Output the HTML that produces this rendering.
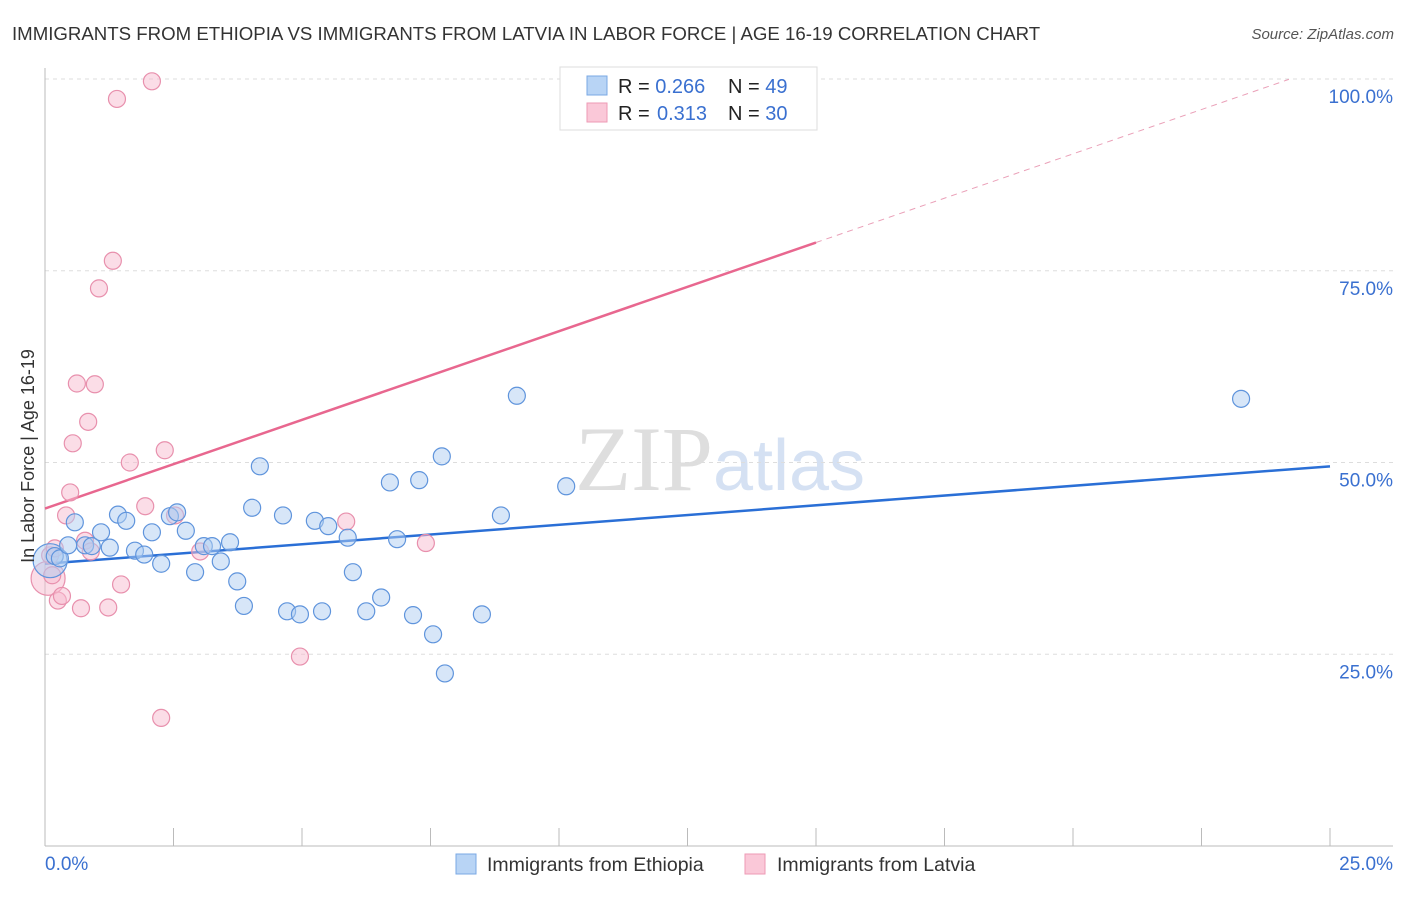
<!DOCTYPE html>
<html><head><meta charset="utf-8"><style>
body{margin:0;background:#fff;font-family:"Liberation Sans",sans-serif}
</style></head><body>
<svg width="1406" height="892" xmlns="http://www.w3.org/2000/svg" font-family="Liberation Sans, sans-serif">
<text x="12" y="40" font-size="18.65" fill="#333">IMMIGRANTS FROM ETHIOPIA VS IMMIGRANTS FROM LATVIA IN LABOR FORCE | AGE 16-19 CORRELATION CHART</text>
<text x="1394" y="39" font-size="15" fill="#555" text-anchor="end" font-style="italic">Source: ZipAtlas.com</text>
<text x="720" y="490" font-size="92" fill="#e4e4e4" text-anchor="middle"><tspan font-family="Liberation Serif, serif" fill="#dedede">ZIP</tspan><tspan fill="#d5e1f3" font-size="72">atlas</tspan></text>
<g id="grid"></g>
<g id="axes"></g>
<g id="lines"></g>
<g id="pts"></g>
<text transform="translate(34,456) rotate(-90)" font-size="18" fill="#333" text-anchor="middle">In Labor Force | Age 16-19</text>
<g>
<rect x="560" y="67" width="257" height="63" fill="#fff" stroke="#ddd"/>
<rect x="587" y="76" width="20" height="19" fill="#b8d4f5" stroke="#7aa8e4"/>
<rect x="587" y="103" width="20" height="19" fill="#fac8d8" stroke="#ee9ab5"/>
<text x="618" y="93" font-size="20" fill="#222">R = <tspan fill="#3a70d0">0.266</tspan><tspan x="728">N = </tspan><tspan fill="#3a70d0">49</tspan></text>
<text x="618" y="120" font-size="20" fill="#222">R = <tspan fill="#3a70d0" x="657">0.313</tspan><tspan x="728">N = </tspan><tspan fill="#3a70d0">30</tspan></text>
</g>
<g>
<rect x="456" y="854" width="20" height="20" fill="#b8d4f5" stroke="#7aa8e4"/>
<text x="487" y="871" font-size="19.5" fill="#333">Immigrants from Ethiopia</text>
<rect x="745" y="854" width="20" height="20" fill="#fac8d8" stroke="#ee9ab5"/>
<text x="777" y="871" font-size="19.5" fill="#333">Immigrants from Latvia</text>
</g>
</svg>
<script>
const blueX=[0.10,0.19,0.29,0.45,0.58,0.78,0.91,1.09,1.26,1.42,1.58,1.75,1.93,2.08,2.26,2.43,2.57,2.74,2.92,3.09,3.25,3.42,3.60,3.74,3.87,4.03,4.18,4.63,4.71,4.96,5.25,5.39,5.51,5.89,5.99,6.25,6.54,6.71,6.85,7.16,7.28,7.55,7.72,7.78,8.50,8.87,9.18,10.14,23.27];
const blueY=[37.2,37.8,37.5,39.2,42.2,39.2,39.1,40.9,38.9,43.2,42.4,38.5,38.0,40.9,36.8,43.0,43.5,41.1,35.7,39.1,39.1,37.1,39.6,34.5,31.3,44.1,49.5,43.1,30.6,30.2,42.4,30.6,41.7,40.2,35.7,30.6,32.4,47.4,40.0,30.1,47.7,27.6,50.8,22.5,30.2,43.1,58.7,46.9,58.3];
const pinkX=[0.06,0.10,0.14,0.19,0.25,0.33,0.41,0.49,0.54,0.62,0.70,0.78,0.84,0.89,0.97,1.05,1.23,1.32,1.40,1.48,1.65,1.95,2.08,2.26,2.33,2.53,3.02,4.96,5.86,7.41];
const pinkY=[34.9,37.9,35.3,38.8,32.0,32.6,43.1,46.1,52.5,60.3,31.0,39.8,55.3,38.4,60.2,72.7,31.1,76.3,97.4,34.1,50.0,44.3,99.7,16.7,51.6,43.1,38.4,24.7,42.3,39.5];
const blueLine=[36.8,49.5];
const pinkLine=[44.0,101.8];
const yTicks=[25,50,75,100];
const yTickLabels=["25.0%","50.0%","75.0%","100.0%"];
const NS="http://www.w3.org/2000/svg";
const sx=v=>45+v*51.4, sy=v=>846-v*7.67;
function mk(p,t,a){const e=document.createElementNS(NS,t);for(const k in a)e.setAttribute(k,a[k]);document.getElementById(p).appendChild(e);return e;}
yTicks.forEach((t,i)=>{
 const g=mk('grid','line',{x1:45,x2:1393,y1:sy(t),y2:sy(t),stroke:'#ddd','stroke-dasharray':'4,4'});
 
 
 const l=mk('grid','text',{x:1393,y:sy(t)+24,'font-size':19,fill:'#3a70d0','text-anchor':'end'});
 l.textContent=yTickLabels[i];
 
 
});
const ax=mk('axes','line',{x1:45,x2:45,y1:68,y2:846,stroke:'#bbb'});


const bx=mk('axes','line',{x1:45,x2:1393,y1:846,y2:846,stroke:'#bbb'});


for(let i=1;i<=10;i++){const t=mk('axes','line',{x1:sx(i*2.5),x2:sx(i*2.5),y1:828,y2:846,stroke:'#bbb'});
 
 }
const x0=mk('axes','text',{x:45,y:870,'font-size':19,fill:'#3a70d0'});x0.textContent='0.0%';


const x1=mk('axes','text',{x:1393,y:870,'font-size':19,fill:'#3a70d0','text-anchor':'end'});x1.textContent='25.0%';


function pts(X,Y,fill,stroke,name){X.forEach((x,i)=>{const c=mk('pts','circle',{cx:sx(x),cy:sy(Y[i]),r:i==0?17:8.5,fill:fill,'fill-opacity':0.5,stroke:stroke,'stroke-width':1.2});
 
 });}
pts(pinkX,pinkY,'#f8bcd0','#e890ad','latvia-point');
pts(blueX,blueY,'#b0cef2','#5f94dc','ethiopia-point');
const bl=mk('lines','line',{x1:sx(0),y1:sy(blueLine[0]),x2:sx(25),y2:sy(blueLine[1]),stroke:'#2a6fd6','stroke-width':2.5});


const pm=pinkLine[0]+(pinkLine[1]-pinkLine[0])*15/25;
const pl=mk('lines','line',{x1:sx(0),y1:sy(pinkLine[0]),x2:sx(15),y2:sy(pm),stroke:'#e8678f','stroke-width':2.5});


const pd=mk('lines','line',{x1:sx(15),y1:sy(pm),x2:sx(24.2),y2:sy(pinkLine[0]+(pinkLine[1]-pinkLine[0])*24.2/25),stroke:'#eaa0b8','stroke-width':1,'stroke-dasharray':'6,5'});


</script>
</body></html>
